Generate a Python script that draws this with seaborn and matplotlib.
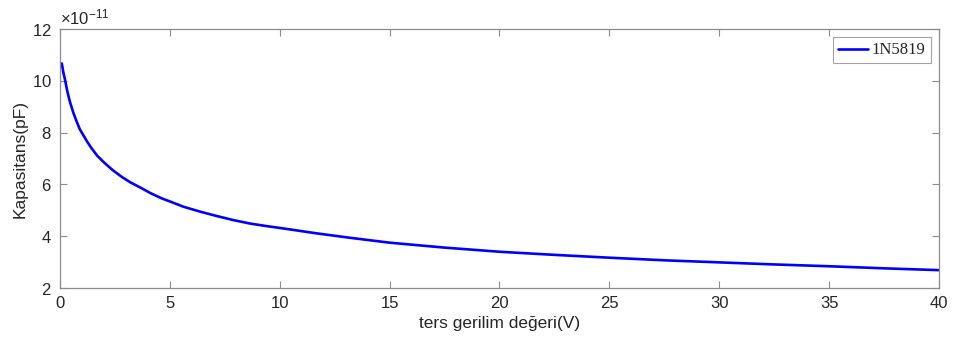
import seaborn as sns
import matplotlib.pyplot as plt
import pandas as pd
from matplotlib.ticker import ScalarFormatter

# values (capacitance in units of 1e-11)
voltage = [0.08, 0.15, 0.23, 0.33, 0.45, 0.6, 0.76, 0.9, 1.06, 1.25, 1.44, 1.7, 2.05, 2.4,
           2.81, 3.2, 3.72, 4.1, 4.63, 5.1, 5.61, 6.37, 7.13, 7.9, 8.64, 9.4, 10.16, 11.68, 13.19,
           15, 17.5, 20, 22.5, 25, 27.5, 30, 32.5, 35, 37.5, 40]
cap_e11 = [10.67, 10.33, 10.03, 9.6, 9.19, 8.78, 8.42, 8.13, 7.90, 7.63, 7.39, 7.1, 6.81, 6.55,
           6.29, 6.08, 5.85, 5.67, 5.46, 5.31, 5.14, 4.95, 4.78, 4.62, 4.49, 4.39, 4.30, 4.11, 3.94,
           3.75, 3.56, 3.40, 3.28, 3.17, 3.07, 2.99, 2.91, 2.84, 2.76, 2.69]
series_name = '1N5819'

df = pd.DataFrame({'V': voltage, 'C': [c * 1e-11 for c in cap_e11], 'diyot': series_name})

sns.set_theme(style='white')
plt.rcParams['font.family'] = ['Liberation Sans', 'DejaVu Sans']
plt.rcParams['mathtext.fontset'] = 'custom'
plt.rcParams['mathtext.rm'] = 'Liberation Sans'

fig = plt.figure(figsize=(9.59, 3.47), dpi=100)
ax = fig.add_axes([0.0626, 0.170, 0.9165, 0.7464])

sns.lineplot(data=df, x='V', y='C', hue='diyot', palette=['#0000ff'], linewidth=1.9, ax=ax)

ax.set_xlim(0, 40)
ax.set_ylim(2e-11, 12e-11)
ax.set_xticks(range(0, 41, 5))
ax.set_yticks([2e-11, 4e-11, 6e-11, 8e-11, 10e-11, 12e-11])

fmt = ScalarFormatter(useMathText=True)
fmt.set_powerlimits((-11, -11))
ax.yaxis.set_major_formatter(fmt)
ax.yaxis.get_offset_text().set_fontsize(12)
ax.yaxis.get_offset_text().set_color('#262626')

for s in ax.spines.values():
    s.set_color('#8c8c8c')
    s.set_linewidth(0.9)
ax.tick_params(direction='in', length=5, width=0.8, color='#8c8c8c',
               labelsize=12, labelcolor='#262626', top=True, right=True,
               left=True, bottom=True, pad=6)

ax.set_xlabel('ters gerilim değeri(V)', fontsize=12.5, color='#262626', labelpad=3)
ax.set_ylabel('Kapasitans(pF)', fontsize=12.5, color='#262626', labelpad=3)

leg = ax.legend(loc='upper right', prop={'family': 'Liberation Serif', 'size': 12},
                frameon=True, fancybox=False, handlelength=1.8, handletextpad=0.25,
                borderpad=0.3, borderaxespad=0.5)
leg.get_frame().set_edgecolor('#8c8c8c')
leg.get_frame().set_linewidth(0.8)

plt.savefig('out.png', dpi=100)
